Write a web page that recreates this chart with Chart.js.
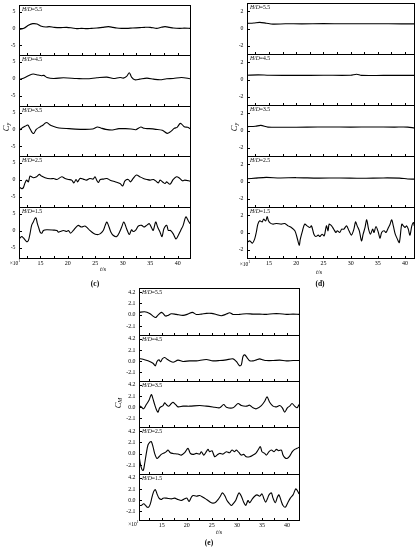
<!DOCTYPE html>
<html><head><meta charset="utf-8">
<script src="https://cdn.jsdelivr.net/npm/chart.js@4.4.0/dist/chart.umd.min.js"></script>
<style>
html,body{margin:0;padding:0;background:#fff;}
#root{position:relative;width:420px;height:550px;overflow:hidden;font-family:"Liberation Serif","DejaVu Serif",serif;color:#000;}
canvas{position:absolute;}
.lbl{position:absolute;white-space:nowrap;line-height:1;transform:translate(-50%,-50%);}
.rot{transform:translate(-50%,-50%) rotate(-90deg);}
.sb{font-size:70%;position:relative;top:0.25em;}
</style></head><body><div id="root"></div>
<script>
// ---------- data ----------
const hdValues = ['5.5','4.5','3.5','2.5','1.5'];
const xTickValues = [12.5,15,17.5,20,22.5,25,27.5,30,32.5,35,37.5,40,42.5];
const cyTicksC = [-5,0,5];
const cyTicksD = [-2,0,2];
const cmTicksE = [-2.1,0,2.1,4.2];

// panel (c): C_y
const c55 = [[11.1,-0.3],[12.0,0.0],[12.9,1.0],[13.6,1.4],[14.4,1.3],[15.2,0.6],[16.0,0.4],[16.6,0.5],[17.5,0.3],[18.5,0.2],[19.8,0.3],[20.8,0.1],[21.6,-0.1],[22.5,0.0],[23.4,-0.1],[24.3,0.0],[25.3,0.1],[26.3,0.3],[27.4,0.5],[28.2,0.3],[28.9,0.1],[29.8,0.0],[30.7,0.0],[31.8,0.1],[33.1,0.2],[34.0,0.3],[35.0,0.3],[36.2,0.0],[37.0,0.3],[37.7,0.5],[38.5,0.3],[39.2,0.1],[40.4,0.0],[41.2,0.05],[42.3,0.0]];
const c45 = [[11.1,-0.3],[12.2,0.4],[13.1,1.15],[13.7,1.4],[14.6,1.1],[15.2,0.9],[15.6,1.0],[16.2,0.4],[17.4,0.1],[19.2,0.3],[21.6,0.1],[23.4,0],[25.3,0.3],[27.1,0.5],[28.3,0.1],[29.5,0.4],[30.1,0.2],[30.7,0.7],[31.2,1.8],[31.6,0.5],[32.2,-0.3],[33.1,-0.1],[34.4,0.2],[35.6,-0.1],[36.8,-0.3],[38.0,0],[39.2,0.1],[40.7,0.4],[42.3,0]];
const c35 = [[11.1,-0.4],[11.5,0.2],[12.2,0.9],[12.7,1.3],[13.1,0.2],[13.5,-1.0],[13.8,-1.2],[14.25,0],[15.0,0.8],[15.5,1.3],[15.9,1.9],[16.25,2.0],[16.7,1.4],[17.2,1.0],[18.4,0.4],[20.2,0.2],[22.6,0],[24.5,0.1],[25.4,0.7],[26.0,0.4],[26.9,0],[28.1,-0.2],[29.3,0.2],[30.5,0.2],[31.5,0.1],[32.4,-0.1],[33.3,0.7],[33.9,0.3],[34.8,0.2],[36.0,0],[37.2,-0.3],[38.1,-1.2],[38.7,-0.7],[39.4,0.3],[39.9,0.6],[40.5,1.8],[41.2,0.8],[41.8,0.6],[42.3,0.2]];
const c25 = [[11.1,-2.1],[11.6,-2.6],[11.9,-2.3],[12.2,-0.9],[12.5,-0.1],[12.8,-0.6],[13.1,1.1],[13.4,0.9],[13.7,0.6],[14.3,0.9],[14.8,1.6],[15.2,1.1],[15.85,0.6],[16.8,0.3],[17.4,0.4],[18.0,0.1],[18.9,0.9],[19.5,0.4],[20.1,0.1],[20.7,-0.1],[21.1,-0.9],[21.5,0.1],[21.8,-0.6],[22.2,0.4],[22.8,0.2],[23.4,-0.1],[24.0,0.4],[24.6,0.2],[24.95,0.9],[25.25,-0.1],[25.55,-0.8],[25.9,0.1],[26.5,0.2],[27.1,0.4],[27.7,-0.1],[28.6,-0.6],[29.5,-1.1],[30.0,-1.8],[30.4,-0.3],[31.0,0.1],[31.4,-0.6],[31.9,0.4],[32.5,1.4],[33.1,0.9],[33.75,0.4],[34.4,0.1],[35.0,-0.1],[35.6,0.1],[36.2,-0.6],[36.5,-0.9],[36.8,-0.1],[37.4,-0.8],[37.7,-1.1],[38.0,-0.6],[38.6,-1.3],[39.2,0.1],[39.8,0.9],[40.4,0.4],[40.9,-0.3],[41.3,-0.1],[42.3,-0.4]];
const c15 = [[11.1,-2.4],[11.6,-1.7],[11.9,-2.1],[12.5,-3.2],[12.8,-2.9],[13.1,-0.9],[13.4,1.6],[13.7,2.6],[14.0,3.6],[14.2,3.8],[14.45,2.1],[14.75,0.6],[14.95,-0.4],[15.25,-0.7],[15.55,0.1],[16.15,0.3],[17.4,0.2],[18.0,0.1],[18.3,-0.4],[18.6,-0.2],[19.2,0.1],[19.8,-0.2],[20.1,0.1],[20.5,-0.7],[21.0,0.1],[21.5,1.1],[21.9,1.6],[22.5,1.1],[23.1,1.4],[23.6,0.8],[24.0,0.1],[24.65,-0.7],[25.25,-1.1],[25.85,-0.9],[26.45,0.1],[26.8,1.6],[27.1,2.6],[27.5,1.1],[27.85,-0.4],[28.3,-1.4],[28.9,-1.7],[29.4,-0.4],[29.8,1.1],[30.2,2.6],[30.7,0.6],[31.2,-1.1],[31.6,0.3],[31.9,-0.2],[32.4,0.3],[32.85,1.4],[33.45,1.6],[33.85,1.1],[34.35,1.6],[34.85,2.1],[35.25,0.9],[35.55,0.1],[36.0,2.6],[36.35,1.1],[36.8,-0.4],[37.15,-1.7],[37.5,0.6],[38.0,1.6],[38.3,0.1],[38.7,0.1],[39.2,-0.9],[39.7,-2.4],[40.1,-1.4],[40.55,0.1],[41.0,1.6],[41.5,4.1],[41.95,2.9],[42.25,2.1]];

// panel (d): C_y
const d55 = [[10.95,0.6],[12.2,0.65],[13.3,0.72],[14.5,0.62],[15.7,0.52],[18,0.55],[21,0.55],[25,0.57],[29,0.55],[33,0.56],[37,0.55],[41.7,0.55]];
const d45 = [[10.95,0.5],[13,0.55],[15,0.5],[20,0.48],[25,0.5],[30,0.5],[31.1,0.62],[32,0.48],[36,0.48],[41.7,0.48]];
const d35 = [[10.95,0.45],[12.5,0.5],[13.5,0.6],[14.8,0.4],[18,0.38],[22,0.4],[26,0.42],[30,0.4],[34,0.42],[38,0.4],[40.5,0.4],[41.7,0.3]];
const d25 = [[10.95,0.32],[12.5,0.4],[14.5,0.48],[17,0.42],[20,0.45],[24,0.4],[28,0.42],[32,0.38],[36,0.42],[39,0.4],[40.5,0.3],[41.7,0.28]];
const d15 = [[10.95,-1.18],[11.45,-0.98],[11.95,-1.25],[12.35,-0.78],[12.65,0],[12.95,0.98],[13.3,1.37],[13.75,1.25],[14.0,1.57],[14.4,1.37],[14.65,1.88],[14.9,1.37],[15.25,1.1],[15.75,0.98],[16.35,1.06],[17.25,0.98],[17.9,1.06],[18.5,0.78],[19.1,0.59],[19.75,0.2],[20.15,-0.59],[20.55,-1.49],[20.75,-0.78],[21.15,0.2],[21.55,0.98],[22.0,0.78],[22.5,0.59],[22.8,0.78],[23.25,-0.2],[23.6,-0.47],[24.05,-0.31],[24.35,-0.47],[24.75,-0.2],[25.15,-0.39],[25.55,0.78],[25.85,0.2],[26.05,0.98],[26.5,0.78],[26.9,0.39],[27.3,0],[27.55,0.2],[28.0,0],[28.35,0.39],[28.75,0.39],[29.25,0.78],[29.7,0.2],[30.15,-0.31],[30.6,0.39],[30.9,1.25],[31.2,0.78],[31.6,0.2],[32.0,-0.98],[32.3,-0.2],[32.65,0.59],[32.95,1.49],[33.3,0.39],[33.65,-0.2],[34.05,0.39],[34.3,0],[34.65,0.71],[35.1,0],[35.4,-0.71],[35.7,0],[36.15,0.2],[36.5,0],[36.95,0.59],[37.25,0.98],[37.55,1.49],[37.85,0.78],[38.2,-0.2],[38.6,-0.78],[38.95,-1.18],[39.4,0.98],[39.7,0.78],[40.0,0.59],[40.3,0.78],[40.6,0.39],[40.9,-0.31],[41.25,0.78],[41.55,1.18],[41.7,0.78]];

// panel (e): C_M
const e55 = [[10.48,0.44],[11.6,0.56],[12.6,0.25],[13.27,-0.25],[13.8,-0.5],[14.27,-0.06],[14.93,0.44],[15.27,0.25],[15.8,-0.25],[16.26,-0.12],[16.93,0.19],[17.93,0.06],[19.26,-0.12],[20.25,0.12],[21.12,0.44],[21.91,0.06],[22.91,0.12],[23.91,0.25],[24.91,0.25],[25.9,0.06],[26.9,-0.19],[27.9,0.12],[28.56,0.38],[29.23,0.06],[30.56,0.06],[31.89,0.19],[33.22,0.12],[34.55,0.12],[35.88,0.06],[37.21,0.19],[38.54,0.19],[39.87,0.06],[41.2,0.12],[42.39,0.06]];
const e45 = [[10.48,0.5],[11.28,0.38],[12.27,0.06],[13.27,-0.38],[13.74,-0.88],[14.07,-0.06],[14.47,0.25],[14.8,-0.12],[15.13,0.44],[15.6,0.69],[16.26,0.25],[17.26,-0.19],[18.26,0.19],[19.26,-0.06],[20.59,0.06],[21.91,0.06],[23.91,0.31],[25.24,0.06],[26.57,0.12],[27.9,0.25],[29.23,0.44],[29.89,-0.06],[30.56,-0.88],[30.89,-0.69],[31.22,0.88],[31.56,1.19],[32.02,0.69],[32.55,0.06],[33.22,0.06],[33.88,0.25],[34.55,0.44],[35.21,0.25],[35.88,0.12],[37.21,0.12],[38.54,0.19],[39.87,0.06],[41.2,0.12],[42.39,0.12]];
const e35 = [[10.48,0.31],[10.94,0.06],[11.41,-0.31],[11.94,0.5],[12.47,1.31],[12.94,2.38],[13.27,1.56],[13.6,0.5],[13.94,-0.44],[14.27,-0.94],[14.6,-0.12],[15.27,0.31],[15.6,0.81],[15.93,0.5],[16.4,0.19],[16.93,0.69],[17.26,0.94],[17.79,0.5],[18.26,0.06],[19.26,0.19],[20.59,0.19],[22.58,0.31],[23.91,0.19],[25.57,0],[26.57,-0.12],[27.37,0.5],[27.9,0],[29.23,-0.12],[30.23,0.69],[30.89,0.31],[31.89,0.19],[32.55,0.38],[33.22,-0.12],[33.88,-0.31],[34.88,0.31],[35.55,1.12],[36.01,1.94],[36.54,0.94],[37.21,0.19],[37.87,0.06],[38.54,0.31],[39.07,-0.12],[39.53,-0.94],[40.07,-0.12],[40.53,0.19],[41.0,0.69],[41.53,0.19],[42.0,-0.12],[42.39,0.5]];
const e25 = [[10.48,-0.25],[10.74,-1.81],[11.08,-2.94],[11.34,-3.06],[11.61,-1.81],[11.94,0.06],[12.27,1.62],[12.61,2.12],[12.94,2.25],[13.27,1.31],[13.6,0.06],[14.07,-0.88],[14.47,-0.56],[14.93,-0.12],[15.6,0.19],[15.93,0.38],[16.26,0.69],[16.73,0.19],[17.26,0.06],[18.26,-0.06],[18.92,-0.25],[19.59,0.19],[20.25,1.0],[20.72,0.06],[21.25,-0.12],[21.91,0.06],[22.58,-0.06],[22.91,0.38],[23.38,-0.25],[23.78,0.19],[24.24,0.81],[24.57,0.38],[25.04,0.56],[25.57,-0.56],[26.04,-0.25],[26.57,0.06],[27.23,-0.06],[27.9,0.38],[28.56,0.19],[29.03,0.69],[29.56,0.38],[29.89,0.69],[30.43,0.19],[30.89,-0.25],[31.36,-0.12],[31.89,-0.56],[32.55,-0.56],[33.22,-0.25],[33.75,0.06],[34.22,0.69],[34.68,1.31],[35.01,0.38],[35.55,0.06],[35.88,-0.25],[36.41,0.38],[36.88,0.69],[37.41,0.38],[37.87,0.81],[38.34,0.56],[38.87,0.69],[39.2,-0.25],[39.53,-0.69],[40.0,-0.88],[40.53,-0.44],[41.06,0.38],[41.53,0.81],[42.0,1.0],[42.39,1.19]];
const e15 = [[10.48,-1.0],[10.94,-1.0],[11.41,-0.69],[11.81,-1.0],[12.07,-1.31],[12.41,-1.31],[12.74,-0.69],[13.07,0.56],[13.4,1.62],[13.74,2.0],[14.07,1.19],[14.47,0.38],[14.93,0.12],[15.27,0.38],[15.93,0.38],[16.93,0.25],[17.59,0.38],[18.26,0.12],[18.92,-0.06],[19.59,0.25],[20.05,0.38],[20.45,-0.25],[20.92,0.56],[21.25,0.88],[21.91,0.75],[22.58,0.88],[23.24,0.56],[23.78,0.25],[24.24,-0.06],[24.71,-0.38],[25.24,-0.56],[25.77,-0.38],[26.24,0.12],[26.7,0.75],[27.1,1.38],[27.57,0.88],[28.03,-0.06],[28.43,-0.56],[28.9,-1.0],[29.23,-0.69],[29.76,-0.06],[30.09,0.75],[30.43,1.38],[30.89,0.75],[31.36,-0.38],[31.76,-1.0],[32.22,-0.06],[32.55,-0.5],[33.09,0.25],[33.55,0.75],[34.02,1.0],[34.55,0.75],[35.01,1.19],[35.35,0.38],[35.74,-0.38],[36.08,0.25],[36.41,1.0],[36.88,1.38],[37.21,0.38],[37.67,-0.5],[38.07,0.56],[38.4,1.0],[38.87,-0.25],[39.2,-1.0],[39.67,-1.31],[40.2,-0.38],[40.66,0.38],[41.2,1.0],[41.73,2.12],[42.06,1.81],[42.39,1.19]];

// ---------- layout ----------
const FONT = '"Liberation Serif","DejaVu Serif",serif';
const AXW = 24, XH = 10;
const panels = [
  {left:19, right:190, bounds:[5,55,106,156,207,258], xMin:11.1, xMax:42.25, yMin:-8, yMax:7, yTicks:cyTicksC, dec:0, series:[c55,c45,c35,c25,c15]},
  {left:247, right:414, bounds:[3,54,105,156,207,258], xMin:10.95, xMax:41.65, yMin:-3, yMax:3, yTicks:cyTicksD, dec:0, series:[d55,d45,d35,d25,d15]},
  {left:139, right:299, bounds:[288,335,381,427,474,520], xMin:10.48, xMax:42.39, yMin:-3.75, yMax:4.95, yTicks:cmTicksE, dec:1, series:[e55,e45,e35,e25,e15]}
];

const framePlugin = {
  id:'frame',
  afterDraw(chart, args, opts){
    const ctx = chart.ctx, a = chart.chartArea;
    const L = Math.round(a.left)+0.5, T = Math.round(a.top)+0.5, R = Math.round(a.right)+0.5, B = Math.round(a.bottom)+0.5;
    ctx.save();
    ctx.strokeStyle = '#000'; ctx.lineWidth = 1;
    ctx.strokeRect(L, T, R-L, B-T);
    const xs = chart.scales.x, ys = chart.scales.y;
    ctx.beginPath();
    xs.ticks.forEach(t => { const px = Math.round(xs.getPixelForValue(t.value))+0.5; ctx.moveTo(px, B); ctx.lineTo(px, B-2.5); });
    ys.ticks.forEach(t => { const py = Math.round(ys.getPixelForValue(t.value))+0.5; ctx.moveTo(L, py); ctx.lineTo(L+2.5, py); });
    ctx.stroke();
    ctx.fillStyle = '#000'; ctx.textBaseline = 'top'; ctx.textAlign = 'left';
    const x0 = a.left + 3, y0 = a.top + 2;
    ctx.font = 'italic 5.7px ' + FONT;
    ctx.fillText('H/D', x0, y0);
    const w = ctx.measureText('H/D').width;
    ctx.font = '5.7px ' + FONT;
    ctx.fillText('=' + opts.hd, x0 + w, y0);
    ctx.restore();
  }
};

const root = document.getElementById('root');
function noPad(s){ s.paddingTop = 0; s.paddingBottom = 0; s.paddingLeft = 0; s.paddingRight = 0; }

function addSub(P, i){
  const last = i === 4;
  const top = P.bounds[i], bot = P.bounds[i+1];
  const w = P.right - P.left + AXW + 1;
  const h = bot - top + 2 + (last ? XH : 0);
  const cv = document.createElement('canvas');
  cv.width = w; cv.height = h;
  cv.style.left = (P.left - AXW) + 'px';
  cv.style.top = (top - 1) + 'px';
  cv.style.width = w + 'px'; cv.style.height = h + 'px';
  root.appendChild(cv);
  const pts = P.series[i].map(p => ({x:p[0], y:p[1]}));
  new Chart(cv, {
    type:'line',
    data:{datasets:[{data:pts, borderColor:'#000', borderWidth:1.1, pointRadius:0, tension:0.3, fill:false}]},
    options:{
      responsive:false, animation:false, devicePixelRatio:1,
      layout:{padding:{top:1, bottom:1, left:0, right:1}},
      plugins:{legend:{display:false}, tooltip:{enabled:false}, frame:{hd:hdValues[i]}},
      scales:{
        x:{type:'linear', min:P.xMin, max:P.xMax,
           grid:{display:false, drawTicks:false}, border:{display:false},
           afterBuildTicks:s => { s.ticks = xTickValues.filter(v => v >= P.xMin && v <= P.xMax).map(v => ({value:v})); },
           ticks:{display:last, autoSkip:false, maxRotation:0, minRotation:0, padding:2, color:'#000',
                  font:{family:FONT, size:6}, callback:v => (v % 5 === 0 ? String(v) : '')},
           afterFit:s => { s.height = last ? XH : 0; noPad(s); }
        },
        y:{type:'linear', min:P.yMin, max:P.yMax,
           grid:{display:false, drawTicks:false}, border:{display:false},
           afterBuildTicks:s => { s.ticks = P.yTicks.map(v => ({value:v})); },
           ticks:{autoSkip:false, padding:3.5, color:'#000', font:{family:FONT, size:5.8},
                  callback:v => Number(v).toFixed(P.dec)},
           afterFit:s => { s.width = AXW; noPad(s); }
        }
      }
    },
    plugins:[framePlugin]
  });
}

panels.forEach(P => { for (let i = 0; i < 5; i++) addSub(P, i); });

// ---------- shared text ----------
function label(html, x, y, size, extra){
  const d = document.createElement('div');
  d.className = 'lbl' + (extra && extra.rot ? ' rot' : '');
  d.style.left = x + 'px'; d.style.top = y + 'px';
  d.style.fontSize = size + 'px';
  if (extra && extra.bold) d.style.fontWeight = 'bold';
  d.innerHTML = html;
  root.appendChild(d);
}
label('<i>C</i><span class="sb"><i>y</i></span>', 5.5, 127, 8.5, {rot:true});
label('<i>C</i><span class="sb"><i>y</i></span>', 234, 127, 8.5, {rot:true});
label('<i>C</i><span class="sb"><i>M</i></span>', 118, 403, 8.5, {rot:true});
label('<i>t</i>/s', 103, 269, 6.5);
label('<i>t</i>/s', 319, 272, 6.5);
label('<i>t</i>/s', 219, 532, 6.5);
label('×10<sup style="font-size:70%">1</sup>', 15, 262.5, 5.5);
label('×10<sup style="font-size:70%">1</sup>', 245, 264, 5.5);
label('×10<sup style="font-size:70%">1</sup>', 133.5, 524, 5.5);
label('(c)', 95, 284, 7.5, {bold:true});
label('(d)', 320, 284, 7.5, {bold:true});
label('(e)', 209, 543, 7.5, {bold:true});
</script>
</body></html>
